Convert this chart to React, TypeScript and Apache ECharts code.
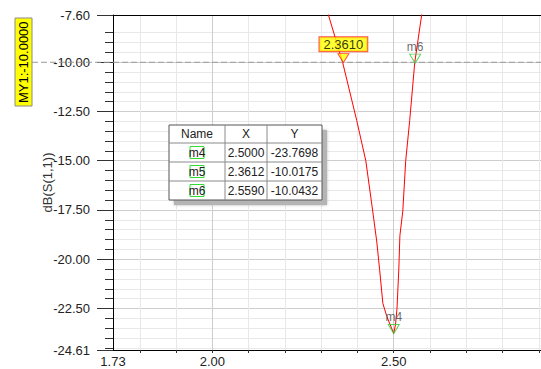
import React, { useEffect, useRef } from "react";
import * as echarts from "echarts";

// ---- data ----
const curveX = [2.301, 2.32, 2.359, 2.398, 2.423, 2.442, 2.453, 2.461, 2.47, 2.481, 2.5, 2.505, 2.509, 2.514, 2.517, 2.525, 2.533, 2.544, 2.558, 2.577, 2.586];
const curveY = [-6.4, -7.6, -10.0, -12.96, -15.0, -17.55, -19.08, -20.51, -22.24, -22.91, -23.77, -23.3, -22.5, -20.5, -18.8, -17.55, -15.0, -12.96, -10.0, -7.6, -6.5];

const markerNames = ["m4", "m5", "m6"];
const markerX = [2.5, 2.3612, 2.559];
const markerY = [-23.7698, -10.0175, -10.0432];
const markerTags = ["m4", "2.3610", "m6"];

const xLabelValues = [1.726, 2.0, 2.5];
const yLabelValues = [-7.6, -10, -12.5, -15, -17.5, -20, -22.5, -24.61];
const X_MIN = 1.726;
const X_MAX = 2.906;
const Y_MIN = -24.61;
const Y_MAX = -7.6;
const lineMarkerValue = -10;
const lineMarkerText = "MY1:-10.0000";
const yAxisName = "dB(S(1,1))";
const tableHeader = ["Name", "X", "Y"];

const xMinorValues: number[] = [];
for (let k = 0; k <= 11; k++) xMinorValues.push(Math.round((1.8 + k * 0.1) * 10) / 10);
const yMinorValues: number[] = [];
for (let v = -24.5; v <= -8.0001; v += 0.5) yMinorValues.push(v);

const FONT = "Liberation Sans, Arial, sans-serif";

export default function App() {
  const ref = useRef<HTMLDivElement>(null);
  useEffect(() => {
    if (!ref.current) return;
    const chart = echarts.init(ref.current, null, { renderer: "svg" });
    const curve = curveX.map((x, i) => [x, curveY[i]]);
    const markers = markerX.map((x, i) => ({
      value: [x, markerY[i]],
      name: markerNames[i],
      itemStyle:
        i === 1
          ? { color: "#ffff00", borderColor: "#ff2020", borderWidth: 1 }
          : { color: "rgba(0,0,0,0)", borderColor: "#33cc33", borderWidth: 1 },
      label:
        i === 1
          ? {
              show: true,
              position: "top",
              distance: 2,
              formatter: markerTags[i],
              color: "#000",
              fontSize: 13,
              fontFamily: FONT,
              backgroundColor: "#ffff00",
              borderColor: "#ff2020",
              borderWidth: 1,
              padding: [1, 4, 0, 4],
            }
          : {
              show: true,
              position: "top",
              distance: 1,
              formatter: markerTags[i],
              color: "#444",
              fontSize: 12,
              fontFamily: FONT,
            },
    }));

    chart.setOption({
      animation: false,
      backgroundColor: "#ffffff",
      grid: { left: 113, top: 15, right: 0, bottom: 19, containLabel: false },
      xAxis: [
        {
          type: "value",
          min: X_MIN,
          max: X_MAX,
          position: "bottom",
          axisLine: { show: true, onZero: false, lineStyle: { color: "#000", width: 1 } },
          axisTick: { show: true, length: 3, customValues: xMinorValues, lineStyle: { color: "#333" } },
          axisLabel: { show: false },
          splitLine: { show: true, lineStyle: { color: "#e8e8e8", width: 1 } },
        },
        {
          type: "value",
          min: X_MIN,
          max: X_MAX,
          position: "bottom",
          axisLine: { show: false, onZero: false },
          axisTick: { show: false, customValues: [2.0, 2.5] },
          axisLabel: {
            show: true,
            customValues: xLabelValues,
            formatter: (v: number) => v.toFixed(2),
            color: "#222",
            fontSize: 13,
            fontFamily: FONT,
            margin: 5,
          },
          splitLine: { show: true, lineStyle: { color: "#cdcdcd", width: 1 } },
        },
        {
          type: "value",
          min: X_MIN,
          max: X_MAX,
          position: "top",
          axisLine: { show: true, onZero: false, lineStyle: { color: "#000", width: 1 } },
          axisTick: { show: false },
          axisLabel: { show: false },
          splitLine: { show: false },
        },
      ],
      yAxis: [
        {
          type: "value",
          min: Y_MIN,
          max: Y_MAX,
          position: "left",
          axisLine: { show: true, onZero: false, lineStyle: { color: "#000", width: 1 } },
          axisTick: { show: true, length: 8, customValues: yMinorValues, lineStyle: { color: "#333" } },
          axisLabel: { show: false },
          splitLine: { show: true, lineStyle: { color: "#e8e8e8", width: 1 } },
        },
        {
          type: "value",
          min: Y_MIN,
          max: Y_MAX,
          position: "left",
          name: yAxisName,
          nameLocation: "middle",
          nameGap: 59,
          nameMoveOverlap: false,
          nameTextStyle: { color: "#333", fontSize: 13, fontFamily: FONT, padding: [0, 0, 0, 0] },
          axisLine: { show: false, onZero: false },
          axisTick: { show: true, length: 16, customValues: yLabelValues, lineStyle: { color: "#333" } },
          axisLabel: {
            show: true,
            customValues: yLabelValues,
            formatter: (v: number) => v.toFixed(2),
            color: "#222",
            fontSize: 13,
            fontFamily: FONT,
            margin: 23,
          },
          splitLine: { show: true, lineStyle: { color: "#cdcdcd", width: 1 } },
        },
      ],
      series: [
        {
          type: "line",
          xAxisIndex: 0,
          yAxisIndex: 0,
          data: curve,
          showSymbol: false,
          symbol: "none",
          clip: true,
          lineStyle: { color: "#ff0000", width: 1 },
          z: 3,
        },
        {
          type: "scatter",
          xAxisIndex: 0,
          yAxisIndex: 0,
          data: markers,
          symbol: "path://M0,0L12,0L6,10Z",
          symbolSize: [11, 9],
          symbolOffset: [0, "-50%"],
          clip: false,
          z: 5,
        },
      ],
    });

    const yPix = chart.convertToPixel({ yAxisIndex: 0 }, lineMarkerValue) as number;

    // table
    const tx = 169, ty = 125;
    const colW = [56, 42, 55];
    const rowH = [18, 19, 19, 19];
    const tw = colW.reduce((a, b) => a + b, 0);
    const th = rowH.reduce((a, b) => a + b, 0);
    const tableEls: any[] = [];
    tableEls.push({ type: "rect", shape: { x: tx + 5, y: ty + 5, width: tw, height: th }, style: { fill: "#b4b4b4", shadowBlur: 3, shadowColor: "#b4b4b4" }, z: 10 });
    tableEls.push({ type: "rect", shape: { x: tx, y: ty, width: tw, height: th }, style: { fill: "#fff", stroke: "#555", lineWidth: 1 }, z: 11 });
    let cy = ty;
    for (let r = 0; r < rowH.length; r++) {
      if (r > 0) tableEls.push({ type: "line", shape: { x1: tx, y1: cy, x2: tx + tw, y2: cy }, style: { stroke: "#8a8a8a", lineWidth: 1 }, z: 12 });
      cy += rowH[r];
    }
    let cx = tx;
    for (let c = 0; c < colW.length; c++) {
      if (c > 0) tableEls.push({ type: "line", shape: { x1: cx, y1: ty, x2: cx, y2: ty + th }, style: { stroke: "#8a8a8a", lineWidth: 1 }, z: 12 });
      cx += colW[c];
    }
    const rows: string[][] = [tableHeader];
    markerNames.forEach((n, i) => rows.push([n, markerX[i].toFixed(4), markerY[i].toFixed(4)]));
    cy = ty;
    rows.forEach((row, r) => {
      let x0 = tx;
      row.forEach((txt, c) => {
        const mx = x0 + colW[c] / 2;
        const my = cy + rowH[r] / 2;
        if (r > 0 && c === 0) {
          tableEls.push({ type: "rect", shape: { x: mx - 7, y: my - 6, width: 14, height: 12 }, style: { fill: "none", stroke: "#33dd33", lineWidth: 1 }, z: 12 });
        }
        tableEls.push({
          type: "text",
          x: mx,
          y: my,
          style: { text: txt, fill: "#222", font: `12px ${FONT}`, align: "center", verticalAlign: "middle" },
          z: 13,
        });
        x0 += colW[c];
      });
      cy += rowH[r];
    });

    chart.setOption({
      graphic: [
        { type: "line", shape: { x1: 32, y1: yPix, x2: 541, y2: yPix }, style: { stroke: "#9a9a9a", lineWidth: 1, lineDash: [6, 3] }, z: 4 },
        { type: "rect", shape: { x: 15, y: 18, width: 17, height: 88 }, style: { fill: "#ffff00", stroke: "#8a8a8a", lineWidth: 1 }, z: 6 },
        {
          type: "text",
          x: 23.5,
          y: yPix,
          rotation: Math.PI / 2,
          style: { text: lineMarkerText, fill: "#000", font: `13px ${FONT}`, align: "center", verticalAlign: "middle" },
          z: 7,
        },
        ...tableEls,
      ],
    });

    return () => chart.dispose();
  }, []);
  return <div ref={ref} style={{ position: "fixed", left: 0, top: 0, width: 541, height: 369 }} />;
}
